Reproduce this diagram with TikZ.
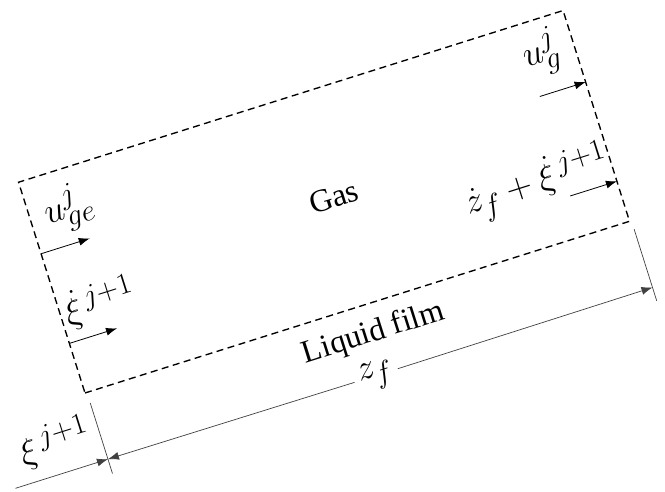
\documentclass[tikz,border=0pt]{standalone}
\usepackage{fontspec}
\setmainfont{Liberation Serif}
\usetikzlibrary{arrows.meta}
\newcommand{\mlab}[1]{\scalebox{1.45}{$#1$}}
\begin{document}
\begin{tikzpicture}[x=1pt,y=1pt,
  box/.style={line width=1.35pt, dash pattern=on 7pt off 4.5pt},
  flow/.style={-{Latex[length=11pt,width=8pt]}, line width=0.8pt},
  dimline/.style={-{Latex[length=11pt,width=8pt]}, line width=0.7pt, draw=black!75},
  extline/.style={line width=0.7pt, draw=black!75},
  lbl/.style={inner sep=1pt, font=\fontsize{32}{38}\selectfont},
  mlbl/.style={inner sep=1pt, font=\Huge},
]
\useasboundingbox (0,0) rectangle (665,492);
\begin{scope}[shift={(85,99)}, rotate=17.5, transform shape]
  % dashed control volume
  \coordinate (BL) at (0,0);
  \coordinate (BR) at (571,0);
  \coordinate (TR) at (571,221);
  \coordinate (TL) at (0,221);
  \draw[box] (BL) -- (BR) -- (TR) -- (TL) -- cycle;

  % texts
  \node[lbl] (gas) at (296,112) {Gas};
  \node[lbl] (film) at (293,-30) {Liquid film};
  \node[mlbl] (uge) at (40,181) {\mlab{u_{ge}^{j}}};
  \node[mlbl] (xidl) at (41,82) {\mlab{\dot{\xi}^{\,j+1}}};
  \node[mlbl] (ug) at (537,187) {\mlab{u_{g}^{j}}};
  \node[mlbl] (zdot) at (494,64) {\mlab{\dot{z}_f+\dot{\xi}^{\,j+1}}};

  % flow arrows
  \coordinate (a1s) at (0,146);   \coordinate (a1e) at (51,146);
  \coordinate (a2s) at (0,52);    \coordinate (a2e) at (50,52);
  \coordinate (a3s) at (523,146); \coordinate (a3e) at (571,146);
  \coordinate (a4s) at (522,42);  \coordinate (a4e) at (571,42);
  \draw[flow] (a1s) -- (a1e);
  \draw[flow] (a2s) -- (a2e);
  \draw[flow] (a3s) -- (a3e);
  \draw[flow] (a4s) -- (a4e);

  % dimensions
  \coordinate (eL1) at (2,-11);   \coordinate (eL2) at (2,-85);
  \coordinate (eR1) at (573,-9);  \coordinate (eR2) at (573,-84);
  \draw[extline] (eL1) -- (eL2);
  \draw[extline] (eR1) -- (eR2);
  \coordinate (dL) at (2,-70);
  \coordinate (dR) at (573,-70);
  \coordinate (xs) at (-95,-70);
  \node[mlbl, fill=white, inner sep=5pt] (zf) at (283,-71) {\mlab{z_f}};
  \draw[dimline] (zf) -- (dL);
  \draw[dimline] (zf) -- (dR);
  \draw[dimline] (xs) -- (dL);
  \node[mlbl] (xi) at (-44,-38) {\mlab{\xi^{\,j+1}}};
\end{scope}
\end{tikzpicture}
\end{document}
